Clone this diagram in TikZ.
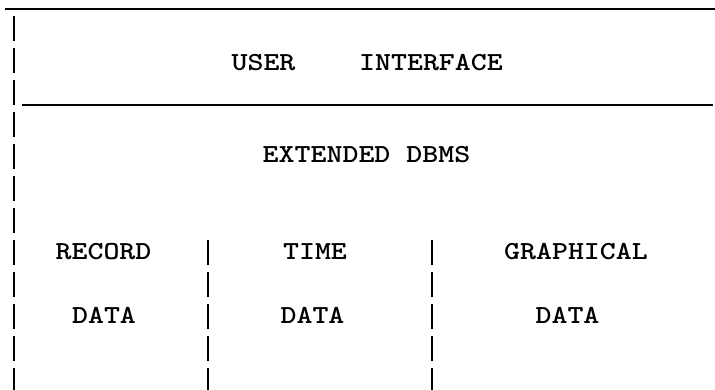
\documentclass[tikz,border=0pt]{standalone}
\usepackage{graphicx}
\begin{document}
\begin{tikzpicture}[x=1pt,y=-1pt,
  label/.style={anchor=base,inner sep=0pt,font=\ttfamily\bfseries\fontsize{26}{30}\selectfont},
  rule/.style={line width=2.5pt},
  bar/.style={line width=2.8pt,dash pattern=on 25pt off 7pt}]
  \useasboundingbox (0,0) rectangle (715,389);

  % frame corners and rule ends
  \coordinate (topL) at (5,9);
  \coordinate (topR) at (715,9);
  \coordinate (midL) at (22,105);
  \coordinate (midR) at (713,105);
  \coordinate (leftTop) at (14,16);
  \coordinate (leftBot) at (14,395);
  \coordinate (sepAtop) at (208,240);
  \coordinate (sepAbot) at (208,395);
  \coordinate (sepBtop) at (432,240);
  \coordinate (sepBbot) at (432,395);

  % horizontal rules
  \draw[rule] (topL) -- (topR);
  \draw[rule] (midL) -- (midR);

  % typed vertical bars
  \draw[bar] (leftTop) -- (leftBot);
  \draw[bar] (sepAtop) -- (sepAbot);
  \draw[bar] (sepBtop) -- (sepBbot);

  % texts
  \newcommand{\typed}[1]{\scalebox{1.17}[1]{#1}}
  \node[label] (user) at (263.5,70) {\typed{USER}};
  \node[label] (iface) at (431,70) {\typed{INTERFACE}};
  \node[label] (ext) at (366.5,162) {\typed{EXTENDED DBMS}};
  \node[label] (rec) at (103.5,259) {\typed{RECORD}};
  \node[label] (time) at (315,259) {\typed{TIME}};
  \node[label] (graph) at (576,259) {\typed{GRAPHICAL}};
  \node[label] (dataA) at (104,323) {\typed{DATA}};
  \node[label] (dataB) at (312.5,323) {\typed{DATA}};
  \node[label] (dataC) at (567.5,323) {\typed{DATA}};
\end{tikzpicture}
\end{document}
